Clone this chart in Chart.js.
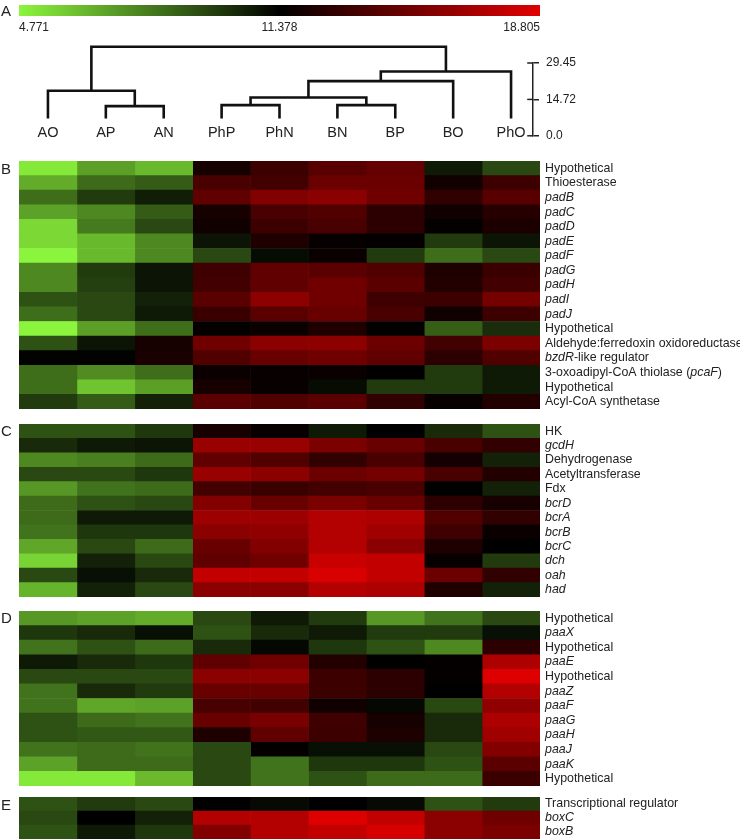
<!DOCTYPE html>
<html>
<head>
<meta charset="utf-8">
<script src="https://cdn.jsdelivr.net/npm/chart.js@4.4.0/dist/chart.umd.min.js"></script>
<style>
  body { margin: 0; background: #fff; }
  #fig { position: relative; width: 740px; height: 839px; overflow: hidden; font-family: "Liberation Sans", Arial, sans-serif; }
  #fig canvas { position: absolute; left: 0; }
  .panel { position: absolute; left: 1px; font-size: 15px; line-height: 1; color: #222; }
</style>
</head>
<body>
<div id="fig">
  <canvas id="colorbar" width="740" height="40" style="top:0"></canvas>
  <canvas id="dendro" width="740" height="115" style="top:35px"></canvas>
  <canvas id="heatB" width="740" height="248" style="top:161px"></canvas>
  <canvas id="heatC" width="740" height="173" style="top:424px"></canvas>
  <canvas id="heatD" width="740" height="175" style="top:611px"></canvas>
  <canvas id="heatE" width="740" height="42" style="top:797px"></canvas>
  <div class="panel" style="top:3px">A</div>
  <div class="panel" style="top:161px">B</div>
  <div class="panel" style="top:423px">C</div>
  <div class="panel" style="top:610px">D</div>
  <div class="panel" style="top:797px">E</div>
</div>
<script>
// colour key
const colorMin = 4.771, colorMid = 11.378, colorMax = 18.805;
const colorbarLabels = ['4.771', '11.378', '18.805'];

// dendrogram: leaves in plotted order, merges as [left node, right node, height]
const leafLabels = ['AO', 'AP', 'AN', 'PhP', 'PhN', 'BN', 'BP', 'BO', 'PhO'];
const leafBase = 7.0;
const merges = [
  [1, 2, 12.0],   // 9  AP+AN
  [3, 4, 12.4],   // 10 PhP+PhN
  [5, 6, 12.4],   // 11 BN+BP
  [10, 11, 15.5], // 12
  [12, 7, 22.1],  // 13 +BO
  [13, 8, 26.0],  // 14 +PhO
  [0, 9, 18.2],   // 15 AO+(AP,AN)
  [15, 14, 36.0]  // 16 root
];
const scaleTicks = [0, 14.72, 29.45];
const scaleTickLabels = ['0.0', '14.72', '29.45'];

// heatmap blocks (columns follow leafLabels)
const bLabels = ['Hypothetical', 'Thioesterase', '*padB*', '*padC*', '*padD*', '*padE*', '*padF*', '*padG*', '*padH*',
  '*padI*', '*padJ*', 'Hypothetical', 'Aldehyde:ferredoxin oxidoreductase', '*bzdR*-like regulator',
  '3-oxoadipyl-CoA thiolase (*pcaF*)', 'Hypothetical', 'Acyl-CoA synthetase'];
const bValues = [
  [5.1, 7.1, 6.4, 12.1, 13.4, 14.3, 14.7, 10.7, 9.4],
  [6.75, 8.5, 8.9, 13.8, 13.6, 14.9, 14.9, 11.95, 13.4],
  [8.4, 9.8, 10.6, 14.6, 15.7, 16.0, 15.1, 13.0, 14.3],
  [7.0, 7.7, 8.9, 12.1, 13.8, 14.05, 12.85, 11.95, 12.65],
  [5.55, 8.1, 9.4, 11.95, 13.4, 13.8, 12.85, 11.5, 12.3],
  [5.55, 6.4, 7.7, 10.85, 12.4, 11.6, 11.5, 9.8, 10.85],
  [4.8, 6.4, 7.7, 9.4, 11.05, 11.75, 9.8, 8.4, 9.4],
  [7.7, 9.8, 10.85, 13.45, 14.6, 14.35, 14.05, 12.4, 13.3],
  [7.7, 9.65, 10.85, 13.6, 14.6, 15.1, 14.35, 12.5, 13.6],
  [9.2, 9.4, 10.5, 14.35, 16.05, 15.1, 13.45, 13.4, 15.25],
  [8.4, 9.4, 10.7, 13.3, 14.35, 14.85, 13.8, 11.95, 13.4],
  [4.8, 7.1, 8.4, 11.5, 11.75, 12.4, 11.45, 8.85, 10.2],
  [9.2, 10.85, 12.1, 15.1, 16.0, 16.05, 14.95, 13.55, 15.45],
  [11.3, 11.3, 12.25, 14.05, 14.85, 15.1, 14.6, 12.85, 14.05],
  [8.4, 7.6, 8.4, 11.75, 11.65, 11.75, 11.38, 9.8, 10.7],
  [8.4, 6.1, 7.1, 12.1, 11.65, 11.05, 9.8, 9.8, 10.7],
  [9.8, 8.9, 10.5, 14.35, 14.05, 14.35, 13.0, 11.6, 12.55]
];

const cLabels = ['HK', '*gcdH*', 'Dehydrogenase', 'Acetyltransferase', 'Fdx', '*bcrD*', '*bcrA*', '*bcrB*', '*bcrC*', '*dch*', '*oah*', '*had*'];
const cValues = [
  [9.2, 9.2, 9.9, 12.1, 11.65, 10.7, 11.38, 10.25, 9.2],
  [10.25, 10.7, 10.85, 16.45, 16.45, 15.45, 14.85, 13.75, 13.0],
  [7.7, 7.95, 8.5, 14.6, 14.05, 13.0, 13.75, 12.05, 10.5],
  [9.4, 9.4, 9.9, 16.45, 16.05, 14.95, 15.25, 13.8, 12.5],
  [7.3, 8.3, 8.5, 13.55, 13.3, 13.6, 13.75, 11.38, 10.5],
  [8.5, 9.2, 9.4, 15.7, 14.85, 15.45, 14.85, 12.85, 12.1],
  [8.5, 10.7, 10.7, 16.55, 16.55, 17.3, 17.1, 14.05, 13.0],
  [8.3, 9.9, 9.9, 16.0, 16.2, 17.3, 16.7, 13.45, 11.75],
  [6.9, 9.4, 8.5, 14.85, 15.7, 17.3, 16.0, 12.4, 11.38],
  [5.7, 10.5, 9.4, 14.6, 15.1, 18.05, 17.85, 11.6, 9.8],
  [9.4, 10.98, 10.25, 17.85, 17.85, 18.55, 17.85, 14.95, 13.0],
  [6.55, 10.5, 9.4, 16.0, 16.0, 17.3, 17.1, 12.4, 10.5]
];

const dLabels = ['Hypothetical', '*paaX*', 'Hypothetical', '*paaE*', 'Hypothetical', '*paaZ*', '*paaF*', '*paaG*', '*paaH*', '*paaJ*', '*paaK*', 'Hypothetical'];
const dValues = [
  [7.3, 7.0, 6.75, 9.4, 10.7, 9.8, 7.3, 8.3, 9.4],
  [9.9, 10.25, 10.98, 9.2, 10.25, 10.7, 9.8, 9.8, 10.98],
  [8.3, 9.2, 8.5, 10.25, 11.18, 9.9, 9.2, 7.7, 12.85],
  [10.7, 10.25, 9.9, 14.6, 15.1, 12.55, 11.38, 11.5, 17.1],
  [9.4, 9.4, 9.4, 16.0, 16.0, 13.4, 12.85, 11.5, 18.75],
  [8.3, 10.25, 9.8, 14.85, 14.85, 13.4, 12.85, 11.38, 17.3],
  [8.3, 6.9, 7.0, 13.75, 13.55, 11.9, 11.18, 9.4, 16.2],
  [9.2, 8.5, 8.3, 14.85, 15.4, 13.45, 12.1, 10.25, 17.1],
  [9.2, 9.0, 9.0, 12.4, 14.6, 13.4, 12.35, 10.25, 16.7],
  [8.3, 8.5, 8.3, 9.4, 11.5, 10.98, 10.98, 9.4, 15.7],
  [7.0, 8.5, 8.5, 9.4, 8.3, 9.9, 9.9, 9.2, 14.35],
  [5.1, 5.1, 6.35, 9.4, 8.3, 9.2, 8.5, 8.5, 13.3]
];

const eLabels = ['Transcriptional regulator', '*boxC*', '*boxB*'];
const eValues = [
  [9.2, 9.8, 9.4, 11.38, 11.1, 11.38, 11.1, 9.2, 9.8],
  [9.4, 11.38, 10.5, 17.3, 17.3, 18.75, 17.85, 16.0, 15.1],
  [9.2, 10.7, 9.9, 15.7, 17.3, 17.85, 18.5, 16.0, 15.45]
];

const FONT = '"Liberation Sans", Arial, sans-serif';
const TEXT = '#222';

// green - black - red
function cellColor(v) {
  if (v <= colorMid) {
    const t = Math.min(1, (colorMid - v) / (colorMid - colorMin));
    return `rgb(${Math.round(140 * t)},${Math.round(245 * t)},${Math.round(60 * t)})`;
  }
  const t = Math.min(1, (v - colorMid) / (colorMax - colorMid));
  return `rgb(${Math.round(224 * t)},0,0)`;
}

// --- colour key ---
new Chart(document.getElementById('colorbar'), {
  type: 'bar',
  data: {
    labels: ['key'],
    datasets: [{
      data: [[0, 1]],
      borderWidth: 0,
      barPercentage: 1,
      categoryPercentage: 1,
      backgroundColor: (context) => {
        const { ctx, chartArea } = context.chart;
        if (!chartArea) return '#000';
        const g = ctx.createLinearGradient(chartArea.left, 0, chartArea.right, 0);
        g.addColorStop(0, cellColor(colorMin));
        g.addColorStop(0.5, cellColor(colorMid));
        g.addColorStop(1, cellColor(colorMax));
        return g;
      }
    }]
  },
  options: {
    indexAxis: 'y',
    responsive: false,
    animation: false,
    layout: { padding: { left: 19, right: 200, top: 5, bottom: 0 } },
    scales: {
      x: {
        min: 0, max: 1,
        afterFit: (s) => { s.height = 24; },
        afterBuildTicks: (s) => { s.ticks = [0, 0.5, 1].map(v => ({ value: v })); },
        grid: { display: false, drawTicks: false },
        border: { display: false },
        ticks: { align: 'inner', padding: 4, color: TEXT, font: { family: FONT, size: 12 }, callback: (v, i) => colorbarLabels[i] }
      },
      y: { display: false }
    },
    plugins: { legend: { display: false }, tooltip: { enabled: false } }
  }
});

// --- dendrogram ---
const xMax = 514 / (521 / 9);

function dendroSegments() {
  const pos = leafLabels.map((_, i) => ({ x: i + 0.5, h: leafBase }));
  const segs = [];
  merges.forEach(([a, b, h]) => {
    const A = pos[a], B = pos[b];
    segs.push([{ x: A.x, y: A.h }, { x: A.x, y: h }, { x: B.x, y: h }, { x: B.x, y: B.h }]);
    pos.push({ x: (A.x + B.x) / 2, h });
  });
  return segs;
}

const leafText = {
  id: 'leafText',
  afterDraw(chart) {
    const { ctx, scales: { x, y } } = chart;
    ctx.save();
    ctx.fillStyle = TEXT;
    ctx.font = `14.5px ${FONT}`;
    ctx.textAlign = 'center';
    ctx.textBaseline = 'middle';
    leafLabels.forEach((lab, i) => ctx.fillText(lab, x.getPixelForValue(i + 0.5), y.getPixelForValue(1.2)));
    ctx.restore();
  }
};

const dendroSets = dendroSegments().map(seg => ({
  data: seg, showLine: true, pointRadius: 0, borderColor: '#111', borderWidth: 2.6, clip: false
}));
scaleTicks.forEach(v => dendroSets.push({
  data: [{ x: xMax - 0.1, y: v }, { x: xMax, y: v }],
  showLine: true, pointRadius: 0, borderColor: '#222', borderWidth: 1.5, clip: false
}));

new Chart(document.getElementById('dendro'), {
  type: 'scatter',
  data: { datasets: dendroSets },
  options: {
    responsive: false,
    animation: false,
    layout: { padding: { left: 19, right: 0, top: 28, bottom: 11 } },
    scales: {
      x: { type: 'linear', min: 0, max: xMax, display: false },
      y: {
        position: 'right', min: 0, max: 29.45,
        afterFit: (s) => { s.width = 740 - 533; },
        afterBuildTicks: (s) => { s.ticks = scaleTicks.map(v => ({ value: v })); },
        border: { display: true, color: '#222', width: 1.5 },
        grid: { drawOnChartArea: false, drawTicks: true, tickLength: 6, color: '#222', lineWidth: 1.5 },
        ticks: { padding: 7, color: TEXT, font: { family: FONT, size: 12 }, callback: (v, i) => scaleTickLabels[i] }
      }
    },
    plugins: { legend: { display: false }, tooltip: { enabled: false } }
  },
  plugins: [leafText]
});

// --- heatmaps ---
const rowLabels = {
  id: 'rowLabels',
  afterDraw(chart) {
    const { ctx, chartArea, scales: { y } } = chart;
    ctx.save();
    ctx.fillStyle = TEXT;
    ctx.textBaseline = 'middle';
    chart.data.labels.forEach((lab, i) => {
      let x = chartArea.right + 5;
      const yy = y.getPixelForValue(i);
      lab.split('*').forEach((part, k) => {
        ctx.font = (k % 2 ? 'italic ' : '') + `12.4px ${FONT}`;
        ctx.fillText(part, x, yy);
        x += ctx.measureText(part).width;
      });
    });
    ctx.restore();
  }
};

function heatmap(id, labels, rows) {
  const datasets = leafLabels.map((col, c) => ({
    label: col,
    data: rows.map(() => 1),
    backgroundColor: rows.map(r => cellColor(r[c])),
    borderWidth: 0,
    barPercentage: 1,
    categoryPercentage: 1
  }));
  new Chart(document.getElementById(id), {
    type: 'bar',
    data: { labels, datasets },
    options: {
      indexAxis: 'y',
      responsive: false,
      animation: false,
      layout: { padding: { left: 19, right: 200, top: 0, bottom: 0 } },
      scales: {
        x: { stacked: true, min: 0, max: 9, display: false },
        y: { stacked: true, display: false }
      },
      plugins: { legend: { display: false }, tooltip: { enabled: false } }
    },
    plugins: [rowLabels]
  });
}

heatmap('heatB', bLabels, bValues);
heatmap('heatC', cLabels, cValues);
heatmap('heatD', dLabels, dValues);
heatmap('heatE', eLabels, eValues);
</script>
</body>
</html>
